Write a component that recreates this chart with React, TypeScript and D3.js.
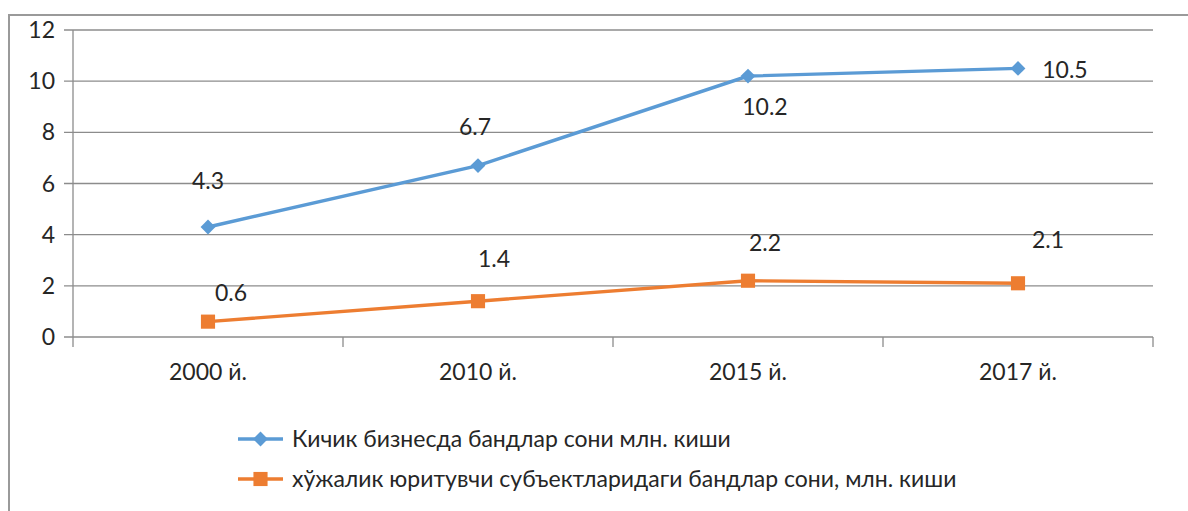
import React, { useRef, useEffect } from "react";
import * as d3 from "d3";

// years on the x axis
const categories = ["2000 й.", "2010 й.", "2015 й.", "2017 й."];
// employed in small business, mln people
const smallBiz = [4.3, 6.7, 10.2, 10.5];
// employed at business entities, mln people
const entities = [0.6, 1.4, 2.2, 2.1];
const yTicks = [0, 2, 4, 6, 8, 10, 12];
const seriesNames = [
  "Кичик бизнесда бандлар сони млн. киши",
  "хўжалик юритувчи субъектларидаги бандлар сони, млн. киши",
];

// label offsets (px) relative to each point, as placed in the original chart
const blueLabelOffsets: [number, number][] = [[0, -46], [-3, -39], [17, 31], [47, 2]];
const orangeLabelOffsets: [number, number][] = [[23, -29], [16, -42], [17, -38], [30, -43]];

const W = 1188;
const H = 511;
const BLUE = "#5B9BD5";
const ORANGE = "#ED7D31";
const TEXT = "#262626";
const FONT = "Lato, 'Open Sans', sans-serif";
const FS = 23;

const App = () => {
  const ref = useRef<SVGSVGElement>(null);

  useEffect(() => {
    document.body.style.margin = "0";
    const svg = d3.select(ref.current);
    svg.selectAll("*").remove();

    const margin = { left: 73, right: W - 1153, top: 30, bottom: H - 337 };

    const x = d3
      .scaleBand()
      .domain(categories)
      .range([margin.left, W - margin.right]);
    const y = d3.scaleLinear().domain([0, 12]).range([H - margin.bottom, margin.top]);
    const cx = (c: string) => (x(c) as number) + x.bandwidth() / 2;

    // outer frame (only top and left edges visible)
    svg
      .append("path")
      .attr("d", `M9,${H} V15 H${W}`)
      .attr("fill", "none")
      .attr("stroke", "#9a9a9a")
      .attr("stroke-width", 2);

    // gridlines
    svg
      .append("g")
      .selectAll("line")
      .data(yTicks)
      .join("line")
      .attr("x1", margin.left - 9)
      .attr("x2", W - margin.right)
      .attr("y1", (d) => y(d))
      .attr("y2", (d) => y(d))
      .attr("stroke", "#8c8c8c")
      .attr("stroke-width", 1.3);

    // y axis line
    svg
      .append("line")
      .attr("x1", margin.left)
      .attr("x2", margin.left)
      .attr("y1", y(12))
      .attr("y2", y(0))
      .attr("stroke", "#8c8c8c")
      .attr("stroke-width", 1.3);

    // y tick labels
    svg
      .append("g")
      .selectAll("text")
      .data(yTicks)
      .join("text")
      .attr("x", 55)
      .attr("y", (d) => y(d))
      .attr("dy", "0.35em")
      .attr("text-anchor", "end")
      .attr("font-family", FONT)
      .attr("font-size", FS)
      .attr("fill", TEXT)
      .text((d) => d);

    // x axis tick marks at band edges
    const edges = categories.map((c) => x(c) as number).concat([W - margin.right]);
    svg
      .append("g")
      .selectAll("line")
      .data(edges)
      .join("line")
      .attr("x1", (d) => d)
      .attr("x2", (d) => d)
      .attr("y1", y(0))
      .attr("y2", y(0) + 10)
      .attr("stroke", "#8c8c8c")
      .attr("stroke-width", 1.3);

    // x labels
    svg
      .append("g")
      .selectAll("text")
      .data(categories)
      .join("text")
      .attr("x", (d) => cx(d))
      .attr("y", y(0) + 43)
      .attr("text-anchor", "middle")
      .attr("font-family", FONT)
      .attr("font-size", FS)
      .attr("fill", TEXT)
      .text((d) => d);

    const line = d3
      .line<number>()
      .x((d, i) => cx(categories[i]))
      .y((d) => y(d));

    const diamond = d3.symbol().type(d3.symbolDiamond2).size(140);
    const square = d3.symbol().type(d3.symbolSquare).size(200);

    const drawSeries = (
      values: number[],
      color: string,
      sym: any,
      offsets: [number, number][]
    ) => {
      const g = svg.append("g");
      g.append("path")
        .datum(values)
        .attr("d", line)
        .attr("fill", "none")
        .attr("stroke", color)
        .attr("stroke-width", 3.4);
      g.selectAll(".m")
        .data(values)
        .join("path")
        .attr("class", "m")
        .attr("d", sym)
        .attr("transform", (d, i) => `translate(${cx(categories[i])},${y(d)})`)
        .attr("fill", color);
      g.selectAll(".lbl")
        .data(values)
        .join("text")
        .attr("class", "lbl")
        .attr("x", (d, i) => cx(categories[i]) + offsets[i][0])
        .attr("y", (d, i) => y(d) + offsets[i][1])
        .attr("dy", "0.35em")
        .attr("text-anchor", "middle")
        .attr("font-family", FONT)
        .attr("font-size", FS)
        .attr("fill", TEXT)
        .text((d) => d3.format(".1f")(d));
    };

    drawSeries(smallBiz, BLUE, diamond, blueLabelOffsets);
    drawSeries(entities, ORANGE, square, orangeLabelOffsets);

    // legend
    const legend = svg.append("g").attr("transform", "translate(238,439)");
    const items = legend
      .selectAll("g")
      .data(seriesNames)
      .join("g")
      .attr("transform", (d, i) => `translate(0,${i * 40})`);
    items
      .append("line")
      .attr("x1", 0)
      .attr("x2", 45)
      .attr("stroke", (d, i) => (i === 0 ? BLUE : ORANGE))
      .attr("stroke-width", 3.4);
    items
      .append("path")
      .attr("d", (d, i) => (i === 0 ? diamond() : square()))
      .attr("transform", "translate(22.5,0)")
      .attr("fill", (d, i) => (i === 0 ? BLUE : ORANGE));
    items
      .append("text")
      .attr("x", 54)
      .attr("dy", "0.35em")
      .attr("font-family", FONT)
      .attr("font-size", FS)
      .attr("fill", TEXT)
      .text((d) => d);
  }, []);

  return <svg ref={ref} width={W} height={H} style={{ display: "block", background: "#fff" }} />;
};

export default App;
